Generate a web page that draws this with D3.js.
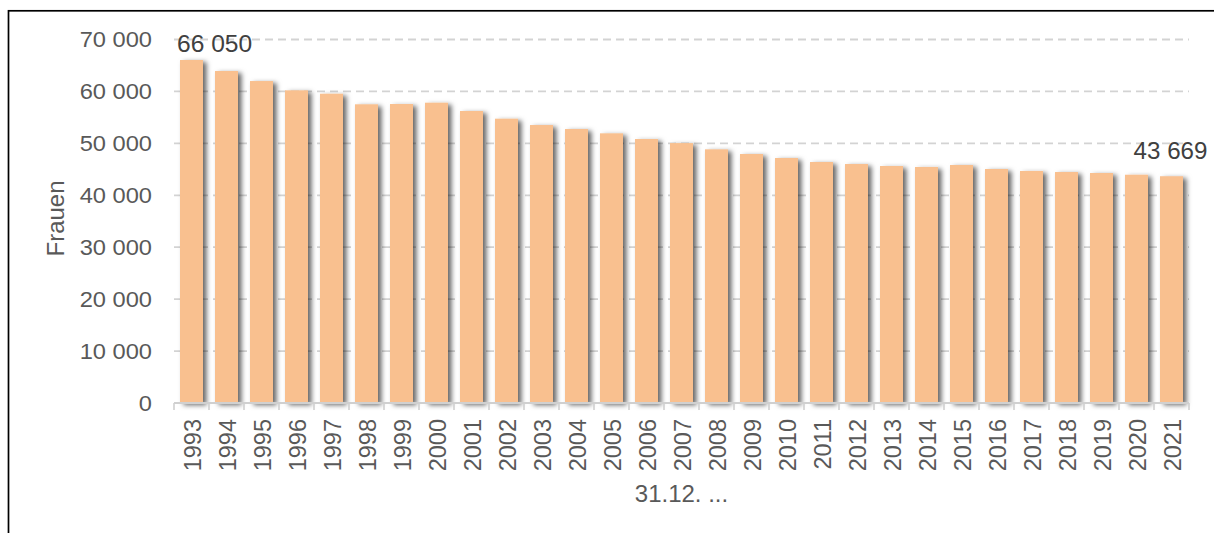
<!DOCTYPE html>
<html>
<head>
<meta charset="utf-8">
<script src="https://cdn.jsdelivr.net/npm/d3@7"></script>
<style>
  html, body { margin: 0; padding: 0; background: #fff; }
  svg { display: block; }
  text { font-family: "Liberation Sans", Arial, sans-serif; }
</style>
</head>
<body>
<svg id="chart" width="1214" height="533"></svg>
<script>
const years = ["1993","1994","1995","1996","1997","1998","1999","2000","2001","2002",
  "2003","2004","2005","2006","2007","2008","2009","2010","2011","2012",
  "2013","2014","2015","2016","2017","2018","2019","2020","2021"];
const women = [66050, 63930, 62000, 60210, 59560, 57520, 57580, 57830, 56230, 54750,
  53530, 52760, 51930, 50840, 50050, 48850, 47950, 47180, 46410, 46020,
  45640, 45450, 45830, 45060, 44680, 44480, 44290, 43960, 43669];
const yTicks = [0, 10000, 20000, 30000, 40000, 50000, 60000, 70000];
const yTitle = "Frauen";
const xTitle = "31.12. ...";
const labelled = ["1993", "2021"];

const svg = d3.select("#chart");
const fmt = v => d3.format(",")(v).replace(/,/g, " ");

const defs = svg.append("defs");
const f = defs.append("filter").attr("id", "shadow")
  .attr("x", "-30%").attr("y", "-10%").attr("width", "160%").attr("height", "120%");
f.append("feDropShadow").attr("dx", 3.5).attr("dy", 2).attr("stdDeviation", 2.5)
  .attr("flood-color", "#000").attr("flood-opacity", 0.6);

// outer frame
svg.append("rect").attr("x", 8.5).attr("y", 10.8).attr("width", 1300).attr("height", 600)
  .attr("fill", "none").attr("stroke", "#000").attr("stroke-width", 1.7);

const x = d3.scaleBand().domain(years).range([174, 1189])
  .paddingInner(12 / 35).paddingOuter(6 / 35);
const xEdge = d3.scaleBand().domain(years).range([174, 1189]).padding(0);
const y = d3.scaleLinear().domain([0, 70000]).range([403, 39.5]);

// gridlines
svg.append("g").selectAll("line").data(yTicks.filter(t => t > 0)).join("line")
  .attr("x1", 174).attr("x2", 1189)
  .attr("y1", d => y(d)).attr("y2", d => y(d))
  .attr("stroke", "#d3d3d3").attr("stroke-width", 1.8).attr("stroke-dasharray", "8 5");

// y tick labels
svg.append("g").selectAll("text").data(yTicks).join("text")
  .attr("transform", d => `translate(152,${y(d)}) scale(1.1,1)`)
  .attr("dy", "0.36em")
  .attr("text-anchor", "end").attr("font-size", 21.5).attr("fill", "#595959")
  .text(d => fmt(d));

// bars
svg.append("g").attr("filter", "url(#shadow)").selectAll("rect")
  .data(years.map((yr, i) => ({ yr, v: women[i] }))).join("rect")
  .attr("x", d => x(d.yr)).attr("width", x.bandwidth())
  .attr("y", d => y(d.v)).attr("height", d => y(0) - y(d.v))
  .attr("fill", "#F9C08F");

// x axis line and ticks
const ax = svg.append("g");
ax.append("line").attr("x1", 174).attr("x2", 1189).attr("y1", y(0)).attr("y2", y(0))
  .attr("stroke", "#d0d0d0").attr("stroke-width", 2);
const edges = years.map(d => xEdge(d)).concat([xEdge(years[years.length - 1]) + xEdge.bandwidth()]);
ax.selectAll("line.tick").data(edges).join("line").attr("class", "tick")
  .attr("x1", d => d).attr("x2", d => d).attr("y1", y(0)).attr("y2", y(0) + 7)
  .attr("stroke", "#d0d0d0").attr("stroke-width", 1.6);

// year labels
svg.append("g").selectAll("text").data(years).join("text")
  .attr("transform", d => `translate(${x(d) + x.bandwidth() / 2},419) rotate(-90)`)
  .attr("dy", "0.4em").attr("text-anchor", "end")
  .attr("font-size", 23.5).attr("fill", "#595959").text(d => d);

// data labels
const first = labelled[0], last = labelled[1];
svg.append("text")
  .attr("transform", `translate(${x(first) - 3},${y(women[years.indexOf(first)]) - 8}) scale(1.07,1)`)
  .attr("font-size", 23).attr("fill", "#404040").attr("text-anchor", "start")
  .text(fmt(women[years.indexOf(first)]));
svg.append("text")
  .attr("transform", `translate(${x(last) + x.bandwidth() / 2 - 1},${y(women[years.indexOf(last)]) - 17}) scale(1.05,1)`)
  .attr("font-size", 23).attr("fill", "#404040").attr("text-anchor", "middle")
  .text(fmt(women[years.indexOf(last)]));

// axis titles
svg.append("text").attr("transform", "translate(63.5,218.5) rotate(-90)")
  .attr("text-anchor", "middle").attr("font-size", 24).attr("fill", "#595959").text(yTitle);
svg.append("text").attr("x", (174 + 1189) / 2).attr("y", 501.5)
  .attr("text-anchor", "middle").attr("font-size", 24).attr("fill", "#595959").text(xTitle);
</script>
</body>
</html>
